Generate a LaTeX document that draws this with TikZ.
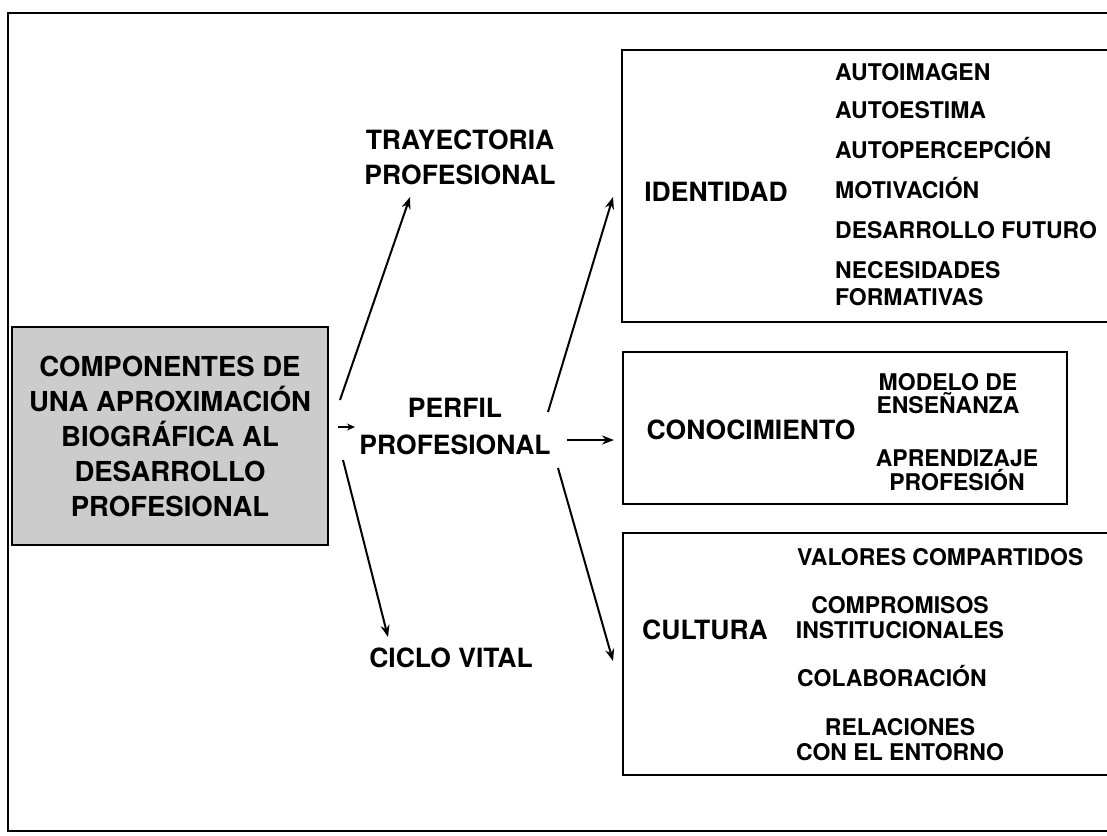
\documentclass[tikz,border=0pt]{standalone}
\usepackage{fontspec}
\setmainfont{TeX Gyre Heros}
\usetikzlibrary{arrows.meta}

\begin{document}
\begin{tikzpicture}[x=1pt,y=-1pt,
	marco/.style={line width=2.8pt},
	caja/.style={line width=2.2pt},
	flecha/.style={line width=2pt,-{Stealth[length=12pt,width=9pt]}},
	titulo/.style={inner sep=0pt,align=center,font=\bfseries\fontsize{26.5}{35}\selectfont},
	item/.style={inner sep=0pt,font=\bfseries\fontsize{23}{25}\selectfont}]
	\useasboundingbox (0,0) rectangle (1107,835);
	\clip (0,0) rectangle (1107,835);

	\draw[marco] (8,13) rectangle (1130,831);

	% componentes
	\node[draw,caja,fill=black!20,minimum width=316pt,minimum height=218pt,
		titulo,font=\bfseries\fontsize{27.5}{35}\selectfont] (comp) at (170,436)
		{COMPONENTES DE\\UNA APROXIMACIÓN\\BIOGRÁFICA AL\\DESARROLLO\\PROFESIONAL};

	\node[titulo] (tray) at (460,157.5) {TRAYECTORIA\\PROFESIONAL};
	\node[titulo,font=\bfseries\fontsize{26.5}{37}\selectfont] (perfil) at (455,426.5) {PERFIL\\PROFESIONAL};
	\node[titulo] (ciclo) at (451,658) {CICLO VITAL};

	% cajas
	\draw[caja] (622,50) rectangle (1130,322);
	\draw[caja] (623,352) rectangle (1067,504);
	\draw[caja] (623,533) rectangle (1130,775);

	\node[titulo] (ident) at (716,192) {IDENTIDAD};
	\node[titulo] (conoc) at (751,430) {CONOCIMIENTO};
	\node[titulo] (cult) at (705,630) {CULTURA};

	% identidad
	\foreach \t/\y in {AUTOIMAGEN/80,AUTOESTIMA/118,AUTOPERCEPCIÓN/158,MOTIVACIÓN/198,DESARROLLO FUTURO/238}
		\node[item,anchor=base west] (id\y) at (835,\y) {\t};
	\node[item,anchor=west,align=left,font=\bfseries\fontsize{23}{27}\selectfont] (nec) at (835,283.5) {NECESIDADES\\FORMATIVAS};

	% conocimiento
	\node[item,align=center,font=\bfseries\fontsize{23}{20}\selectfont] (mod) at (948,393.5) {MODELO DE\\ENSEÑANZA};
	\node[item,align=center,font=\bfseries\fontsize{23}{24}\selectfont] (apr) at (957,470) {APRENDIZAJE\\PROFESIÓN};

	% cultura
	\node[item,anchor=base west] (val) at (797,565) {VALORES COMPARTIDOS};
	\node[item,align=center] (compr) at (900,617.5) {COMPROMISOS\\INSTITUCIONALES};
	\node[item,anchor=base west] (colab) at (797,686) {COLABORACIÓN};
	\node[item,align=center] (rel) at (900,739.5) {RELACIONES\\CON EL ENTORNO};

	% flechas
	\coordinate (c1) at (340,400);
	\coordinate (c2) at (338,427);
	\coordinate (c3) at (343,460);
	\coordinate (t1) at (410,197);
	\coordinate (t2) at (355,427);
	\coordinate (t3) at (388,637);
	\coordinate (p1) at (548,412);
	\coordinate (p2) at (567,440);
	\coordinate (p3) at (558,468);
	\coordinate (i1) at (613,197);
	\coordinate (i2) at (614,440);
	\coordinate (i3) at (613,661);

	\draw[flecha] (c1) -- (t1);
	\draw[line width=2pt,-{Stealth[length=8pt,width=7pt]}] (c2) -- (t2);
	\draw[flecha] (c3) -- (t3);
	\draw[flecha] (p1) -- (i1);
	\draw[flecha] (p2) -- (i2);
	\draw[flecha] (p3) -- (i3);
\end{tikzpicture}
\end{document}
